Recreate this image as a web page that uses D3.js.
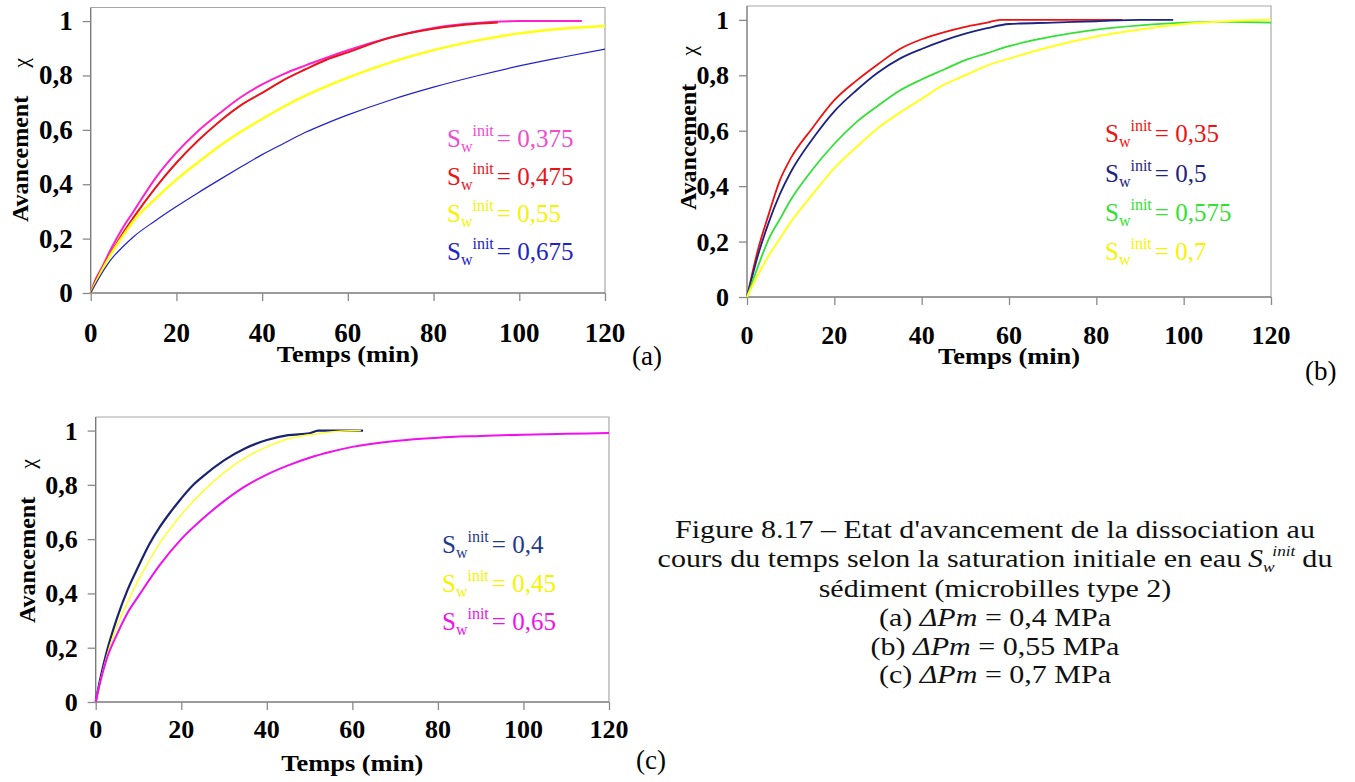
<!DOCTYPE html>
<html>
<head>
<meta charset="utf-8">
<script src="https://cdn.jsdelivr.net/npm/d3@7"></script>
<style>
  body { margin: 0; background: #fff; }
  svg, svg text { font-family: "Liberation Serif", "Times New Roman", serif; }
</style>
</head>
<body>
<script>
// ---- data (t in min, avancement chi) ----
// panel (a) dPm = 0.4 MPa
var tA375 = [0, 1, 2.5, 5, 7.5, 10, 15, 20, 25, 30, 35, 40, 45, 50, 55, 60, 70, 80, 90, 100, 114.6];
var vA375 = [0, 0.045, 0.09, 0.17, 0.24, 0.30, 0.42, 0.516, 0.595, 0.66, 0.72, 0.767, 0.805, 0.836, 0.865, 0.893, 0.94, 0.975, 0.993, 1.0, 1.0];
var tA475 = [0, 1, 2.5, 5, 7.5, 10, 15, 20, 25, 30, 35, 40, 45, 50, 55, 60, 70, 80, 90, 95];
var vA475 = [0, 0.04, 0.085, 0.155, 0.22, 0.278, 0.385, 0.479, 0.56, 0.63, 0.69, 0.736, 0.783, 0.822, 0.858, 0.885, 0.94, 0.972, 0.99, 0.995];
var tA55 = [0, 2.5, 5, 7.5, 10, 15, 20, 25, 30, 35, 40, 45, 50, 55, 60, 70, 80, 90, 100, 110, 120];
var vA55 = [0, 0.08, 0.15, 0.21, 0.265, 0.345, 0.417, 0.48, 0.54, 0.593, 0.64, 0.685, 0.725, 0.76, 0.792, 0.848, 0.893, 0.928, 0.955, 0.972, 0.982];
var tA675 = [0, 2.5, 5, 7.5, 10, 15, 20, 25, 30, 35, 40, 45, 50, 55, 60, 70, 80, 90, 100, 110, 120];
var vA675 = [0, 0.07, 0.128, 0.17, 0.207, 0.265, 0.318, 0.368, 0.416, 0.463, 0.509, 0.55, 0.59, 0.624, 0.655, 0.71, 0.757, 0.798, 0.835, 0.867, 0.897];

// panel (b) dPm = 0.55 MPa
var tB35 = [0, 2.5, 5, 7.5, 10, 15, 20, 25, 30, 35, 40, 45, 50, 55, 58, 86];
var vB35 = [0, 0.17, 0.30, 0.42, 0.50, 0.61, 0.71, 0.78, 0.84, 0.895, 0.93, 0.955, 0.975, 0.99, 1.0, 1.0];
var tB5 = [0, 2.5, 5, 7.5, 10, 15, 20, 25, 30, 35, 40, 45, 50, 55, 60, 70, 80, 90, 97.6];
var vB5 = [0, 0.15, 0.27, 0.37, 0.45, 0.57, 0.67, 0.745, 0.81, 0.86, 0.895, 0.925, 0.95, 0.97, 0.985, 0.99, 0.995, 1.0, 1.0];
var tB575 = [0, 2.5, 5, 7.5, 10, 15, 20, 25, 30, 35, 40, 45, 50, 55, 60, 70, 80, 90, 100, 110, 120];
var vB575 = [0, 0.11, 0.21, 0.28, 0.35, 0.46, 0.553, 0.63, 0.69, 0.745, 0.785, 0.82, 0.855, 0.88, 0.905, 0.94, 0.965, 0.98, 0.99, 0.993, 0.99];
var tB7 = [0, 2.5, 5, 7.5, 10, 15, 20, 25, 30, 35, 40, 45, 50, 55, 60, 70, 80, 90, 100, 110, 120];
var vB7 = [0, 0.08, 0.15, 0.21, 0.27, 0.37, 0.465, 0.54, 0.61, 0.665, 0.715, 0.765, 0.80, 0.835, 0.86, 0.905, 0.94, 0.965, 0.985, 0.995, 1.0];

// panel (c) dPm = 0.7 MPa
var tC4 = [0, 1, 2.5, 5, 7.5, 10, 12.5, 15, 17.5, 20, 22.5, 25, 30, 35, 40, 45, 50, 52, 62.5];
var vC4 = [0, 0.08, 0.18, 0.31, 0.415, 0.5, 0.58, 0.645, 0.7, 0.75, 0.795, 0.83, 0.89, 0.935, 0.965, 0.983, 0.99, 1.0, 1.0];
var tC45 = [0, 1, 3, 5, 7.5, 10, 12.5, 15, 20, 25, 30, 35, 40, 45, 50, 55, 62];
var vC45 = [0, 0.07, 0.19, 0.28, 0.37, 0.45, 0.52, 0.585, 0.69, 0.775, 0.845, 0.9, 0.94, 0.97, 0.985, 0.995, 1.0];
var tC65 = [0, 1, 2.5, 5, 7.5, 10, 15, 20, 25, 30, 35, 40, 45, 50, 55, 60, 70, 80, 90, 100, 110, 120];
var vC65 = [0, 0.07, 0.155, 0.25, 0.33, 0.39, 0.505, 0.6, 0.675, 0.74, 0.795, 0.838, 0.872, 0.9, 0.922, 0.94, 0.962, 0.974, 0.98, 0.985, 0.988, 0.991];

// ticks and labels
var xTicks = [0, 20, 40, 60, 80, 100, 120];
var yTicks = [0, 0.2, 0.4, 0.6, 0.8, 1];
var captionLines = [
  "Figure 8.17 \u2013 Etat d'avancement de la dissociation au",
  "cours du temps selon la saturation initiale en eau",
  "sédiment (microbilles type 2)"
];
var pressureLines = [["(a) ", "0,4 MPa"], ["(b) ", "0,55 MPa"], ["(c) ", "0,7 MPa"]];

var svg = d3.select("body").append("svg")
  .attr("width", 1355)
  .attr("height", 782)
  .attr("font-family", "Liberation Serif, Times New Roman, serif");

var fmt = function(d) { return String(d).replace(".", ","); };

function zip(ts, vs) {
  return ts.map(function(t, i) { return [t, vs[i]]; });
}

// text placed at (x,y) and widened a bit, like the scanned figure
function wideText(parent, x, y, sx) {
  return parent.append("text")
    .attr("transform", "translate(" + x + "," + y + ") scale(" + sx + ",1)");
}

// draw one panel
function drawPanel(p) {
  var x = d3.scaleLinear().domain([0, 120]).range([p.left, p.right]);
  var y = d3.scaleLinear().domain([0, 1.05]).range([p.bottom, p.top]);

  // frame (top / right light grey)
  svg.append("path")
    .attr("d", "M" + p.left + "," + p.top + "H" + p.right + "V" + p.bottom)
    .attr("fill", "none")
    .attr("stroke", "#a8a8a8")
    .attr("stroke-width", 1.2);

  var xAxis = svg.append("g")
    .attr("transform", "translate(0," + p.bottom + ")")
    .call(d3.axisBottom(x).tickValues(xTicks).tickSize(8).tickSizeOuter(0).tickFormat(""));
  var yAxis = svg.append("g")
    .attr("transform", "translate(" + p.left + ",0)")
    .call(d3.axisLeft(y).tickValues(yTicks).tickSize(8).tickSizeOuter(0).tickFormat(""));
  [xAxis, yAxis].forEach(function(g) {
    g.select(".domain").attr("stroke", "#7a7a7a").attr("stroke-width", 1.4)
      .attr("d", g === xAxis ? "M" + p.left + ",0H" + p.right : "M0," + p.top + "V" + p.bottom);
    g.selectAll(".tick line").attr("stroke", "#8a8a8a").attr("stroke-width", 1.3);
  });

  // tick labels
  svg.append("g").selectAll("text").data(xTicks).enter().append("text")
    .attr("x", function(d) { return x(d); })
    .attr("y", p.xLabelY)
    .attr("text-anchor", "middle")
    .attr("font-weight", "bold")
    .attr("font-size", p.tickFont)
    .text(function(d) { return d; });
  svg.append("g").selectAll("text").data(yTicks).enter().append("text")
    .attr("x", p.left - 18)
    .attr("y", function(d) { return y(d) + 9; })
    .attr("text-anchor", "end")
    .attr("font-weight", "bold")
    .attr("font-size", p.tickFont)
    .text(fmt);

  // curves
  var line = d3.line()
    .x(function(d) { return x(d[0]); })
    .y(function(d) { return y(d[1]); })
    .curve(d3.curveMonotoneX);
  p.series.forEach(function(s) {
    svg.append("path")
      .datum(zip(s.t, s.v))
      .attr("d", line)
      .attr("fill", "none")
      .attr("stroke", s.color)
      .attr("stroke-width", s.width)
      .attr("stroke-linejoin", "round");
  });

  // legend
  p.series.forEach(function(s, i) {
    var t = svg.append("text")
      .attr("x", p.legX)
      .attr("y", p.legY[i])
      .attr("fill", s.textColor || s.color)
      .attr("font-size", 25);
    t.append("tspan").text("S");
    t.append("tspan").attr("font-size", 16).attr("dy", 5).text("w");
    t.append("tspan").attr("font-size", 16).attr("dy", -16).text("init");
    t.append("tspan").attr("dy", 11).attr("dx", 3).text("= " + s.name);
  });

  // axis titles
  var yl = svg.append("text")
    .attr("transform", "translate(" + p.yTitleX + "," + p.yTitleY + ") rotate(-90)")
    .attr("font-size", 24);
  yl.append("tspan").attr("font-weight", "bold").text("Avancement");
  yl.append("tspan").attr("dx", 28).attr("font-size", 22).text("\u03c7");

  wideText(svg, (p.left + p.right) / 2, p.xTitleY, 1.1)
    .attr("text-anchor", "middle")
    .attr("font-weight", "bold")
    .attr("font-size", 24)
    .text("Temps (min)");

  svg.append("text")
    .attr("x", p.tagX)
    .attr("y", p.tagY)
    .attr("font-size", 27)
    .text(p.tag);
}

drawPanel({
  left: 90.7, right: 605, top: 7.5, bottom: 293,
  xLabelY: 342, tickFont: 27, xTitleY: 362,
  yTitleX: 28, yTitleY: 222,
  tag: "(a)", tagX: 632, tagY: 365,
  legX: 447, legY: [147, 185, 222, 260],
  series: [
    { name: "0,375", t: tA375, v: vA375, color: "#ff22cc", textColor: "#f04ccc", width: 2 },
    { name: "0,475", t: tA475, v: vA475, color: "#e8141a", width: 2 },
    { name: "0,55", t: tA55, v: vA55, color: "#ffff10", textColor: "#f4f400", width: 2.4 },
    { name: "0,675", t: tA675, v: vA675, color: "#2222c8", width: 1.2 }
  ]
});

drawPanel({
  left: 747, right: 1271, top: 6, bottom: 297,
  xLabelY: 344, tickFont: 26, xTitleY: 364,
  yTitleX: 696, yTitleY: 210,
  tag: "(b)", tagX: 1305, tagY: 380,
  legX: 1105, legY: [142, 182, 221, 260],
  series: [
    { name: "0,35", t: tB35, v: vB35, color: "#ee1111", width: 1.8 },
    { name: "0,5", t: tB5, v: vB5, color: "#1c2380", width: 1.8 },
    { name: "0,575", t: tB575, v: vB575, color: "#33e033", width: 1.8 },
    { name: "0,7", t: tB7, v: vB7, color: "#ffff20", textColor: "#f4f400", width: 2 }
  ]
});

drawPanel({
  left: 95.7, right: 609, top: 417, bottom: 702,
  xLabelY: 738, tickFont: 26, xTitleY: 771,
  yTitleX: 35, yTitleY: 623,
  tag: "(c)", tagX: 636, tagY: 769,
  legX: 442, legY: [553, 592, 630],
  series: [
    { name: "0,4", t: tC4, v: vC4, color: "#1a2370", textColor: "#1f3a8a", width: 2.2 },
    { name: "0,45", t: tC45, v: vC45, color: "#ffff30", textColor: "#f4f400", width: 1.5 },
    { name: "0,65", t: tC65, v: vC65, color: "#ee11ee", width: 2 }
  ]
});

// caption
var cap = svg.append("g").attr("font-size", 26).attr("fill", "#111");
var capX = 995;
var capSx = 1.155;
var capY = [538, 567, 597];
captionLines.forEach(function(txt, i) {
  var t = wideText(cap, capX, capY[i], capSx).attr("text-anchor", "middle");
  t.append("tspan").text(txt);
  if (i === 1) {
    t.append("tspan").attr("dx", 6).attr("font-style", "italic").text("S");
    t.append("tspan").attr("font-style", "italic").attr("font-size", 15).attr("dy", 5).text("w");
    t.append("tspan").attr("font-style", "italic").attr("font-size", 15).attr("dy", -16).attr("dx", -2).text("init");
    t.append("tspan").attr("dy", 11).attr("dx", 6).text("du");
  }
});
var pY = [626, 655, 683];
pressureLines.forEach(function(pl, i) {
  var t = wideText(cap, capX, pY[i], capSx).attr("text-anchor", "middle");
  t.append("tspan").text(pl[0]);
  t.append("tspan").attr("font-style", "italic").text("\u0394Pm");
  t.append("tspan").text(" = " + pl[1]);
});
</script>
</body>
</html>
